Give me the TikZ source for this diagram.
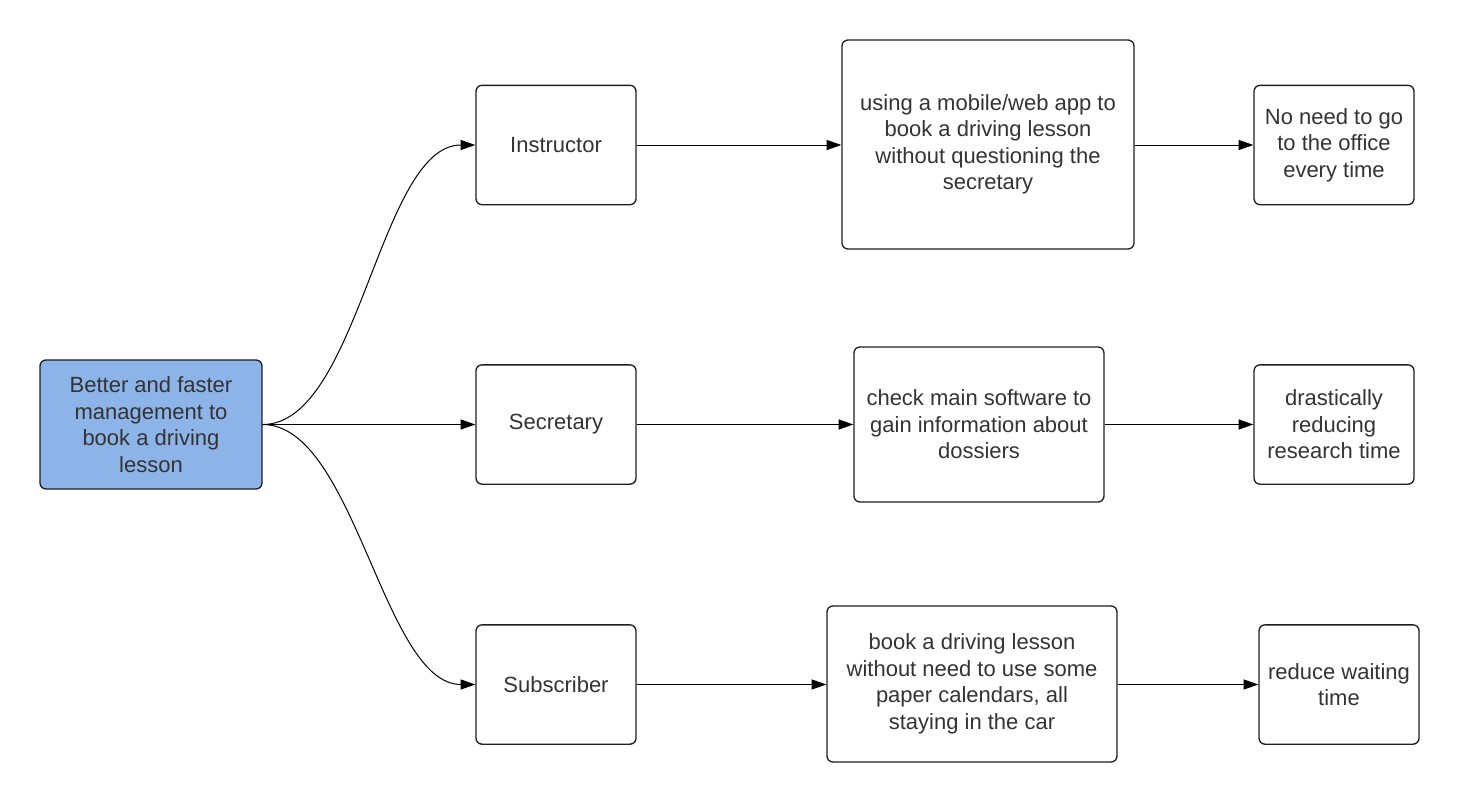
\documentclass[tikz,border=0pt]{standalone}
\usepackage{fontspec}
\setmainfont{Liberation Sans}
\usetikzlibrary{arrows.meta}
\definecolor{ink}{HTML}{333333}
\definecolor{edge}{HTML}{1E1E1E}
\definecolor{goalblue}{HTML}{8DB4E8}

\begin{document}
\begin{tikzpicture}[x=0.75pt, y=-0.75pt, font=\fontsize{16.5}{19.9}\selectfont]
  % --- column centres and row centres (pixel grid of the page) -------------
  \def\cg{151}    % goal column
  \def\ca{556}    % actor column
  \def\rI{145}    % instructor row
  \def\rS{424.5}  % secretary row
  \def\rB{684.5}  % subscriber row

  \tikzset{
    box/.style={draw=edge, line width=1pt, rounded corners=4.5pt,
      text=ink, align=center, inner sep=0pt},
    goal/.style={box, fill=goalblue},
    small/.style={box, minimum width=120pt, minimum height=89.5pt},
    link/.style={draw=black, line width=0.75pt,
      -{Triangle[length=11pt, width=7.5pt]}}}

  % page margins
  \useasboundingbox (0,0) rectangle (1459,803);

  % ---- 1. the goal ---------------------------------------------------------
  \node[goal, minimum width=166.5pt, minimum height=96.75pt] (goal) at (\cg,\rS)
    {Better and faster\\management to\\book a driving\\lesson};

  % ---- 2. the three actors -------------------------------------------------
  \node[small] (instr) at (\ca,\rI) {Instructor};
  \node[small] (secr)  at (\ca,\rS) {Secretary};
  \node[small] (subs)  at (\ca,\rB) {Subscriber};

  % ---- 3. what each actor does ---------------------------------------------
  \node[box, minimum width=219pt, minimum height=156.75pt] (appuse) at (988,144.5)
    {using a mobile/web app to\\book a driving lesson\\without questioning the\\secretary};
  \node[box, minimum width=187.5pt, minimum height=116.25pt] (check) at (979,\rS)
    {check main software to\\gain information about\\dossiers};
  \node[box, minimum width=217.5pt, minimum height=117pt] (carbook) at (972,684)
    {book a driving lesson\\without need to use some\\paper calendars, all\\staying in the car};

  % ---- 4. the gains --------------------------------------------------------
  \node[small] (nooffice) at (1334,\rI) {No need to go\\to the office\\every time};
  \node[small] (research) at (1334,\rS) {drastically\\reducing\\research time};
  \node[small] (waiting)  at (1339,\rB) {reduce waiting\\time};

  % ---- 5. connectors -------------------------------------------------------
  \draw[link] (goal.east) to[out=0, in=180, looseness=0.7] (instr.west);
  \draw[link] (goal.east) -- (secr.west);
  \draw[link] (goal.east) to[out=0, in=180, looseness=0.7] (subs.west);

  \draw[link] (instr.east) -- (appuse.west |- instr.east);
  \draw[link] (secr.east)  -- (check.west |- secr.east);
  \draw[link] (subs.east)  -- (carbook.west |- subs.east);

  \draw[link] (appuse.east |- nooffice.west) -- (nooffice.west);
  \draw[link] (check.east)   -- (research.west);
  \draw[link] (carbook.east |- waiting.west) -- (waiting.west);
\end{tikzpicture}
\end{document}
